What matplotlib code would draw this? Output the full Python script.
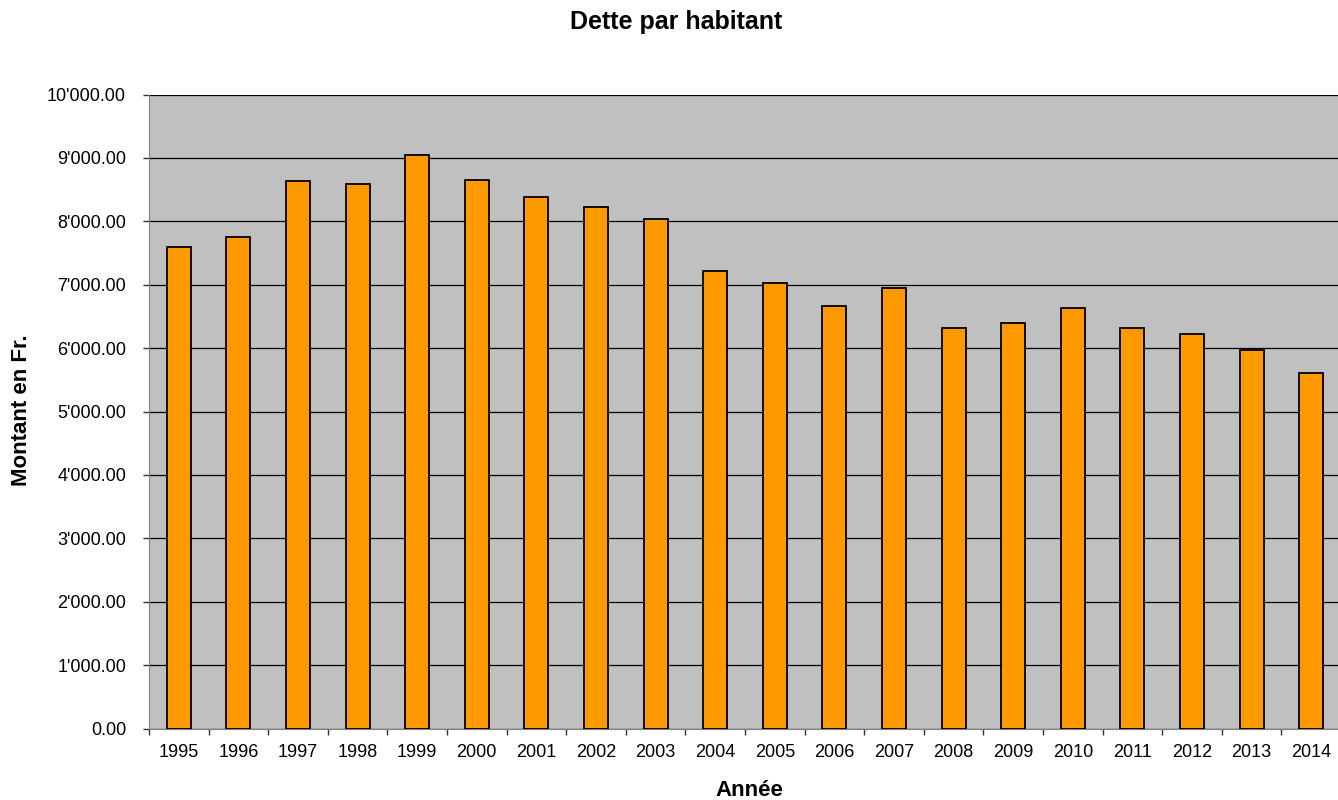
import matplotlib
matplotlib.use("Agg")
import matplotlib.pyplot as plt
from matplotlib.ticker import FuncFormatter, MultipleLocator, FixedLocator
import numpy as np

years = ["1995", "1996", "1997", "1998", "1999", "2000", "2001", "2002", "2003", "2004",
         "2005", "2006", "2007", "2008", "2009", "2010", "2011", "2012", "2013", "2014"]
dette = [7595, 7760, 8640, 8590, 9050, 8650, 8390, 8220, 8040, 7220,
         7020, 6670, 6950, 6320, 6400, 6630, 6320, 6220, 5970, 5600]

plt.rcParams['font.family'] = ['Liberation Sans', 'DejaVu Sans']

fig = plt.figure(figsize=(13.38, 8.0), dpi=100)
W, H = 1338, 800
left, right, top, bottom = 149, 1341, 94.5, 728.5
ax = fig.add_axes([left / W, 1 - bottom / H, (right - left) / W, (bottom - top) / H])
ax.set_facecolor('#c0c0c0')

x = np.arange(len(years))
ax.bar(x, dette, width=0.4, color='#ff9900', edgecolor='black', linewidth=1.3, zorder=3)

ax.set_xlim(-0.5, len(years) - 0.5)
ax.set_ylim(0, 10000)
ax.yaxis.set_major_locator(MultipleLocator(1000))
ax.yaxis.set_major_formatter(FuncFormatter(lambda v, p: f"{v:,.2f}".replace(",", "'")))
ax.grid(axis='y', color='black', linewidth=0.9, zorder=1)
ax.set_axisbelow(True)

ax.set_xticks(x)
ax.set_xticklabels(years)
ax.xaxis.set_minor_locator(FixedLocator(np.arange(-0.5, len(years), 1)))
ax.tick_params(axis='x', which='major', length=0, pad=11, labelsize=13)
ax.tick_params(axis='x', which='minor', length=4, width=1, color='#333333', direction='out')
ax.tick_params(axis='y', length=4.5, width=1, color='#333333', direction='out', labelsize=13, pad=12)

for s in ['top', 'right']:
    ax.spines[s].set_visible(False)
ax.spines['left'].set_color('#808080')
ax.spines['bottom'].set_color('#808080')

fig.text(676 / W, 1 - 22 / H, "Dette par habitant", ha='center', va='center',
         fontsize=18, fontweight='bold')
fig.text(749 / W, 1 - 790 / H, "Année", ha='center', va='center',
         fontsize=16, fontweight='bold')
fig.text(22 / W, 1 - 410 / H, "Montant en Fr.", ha='center', va='center',
         fontsize=16, fontweight='bold', rotation=90)

fig.savefig("out.png", dpi=100)
